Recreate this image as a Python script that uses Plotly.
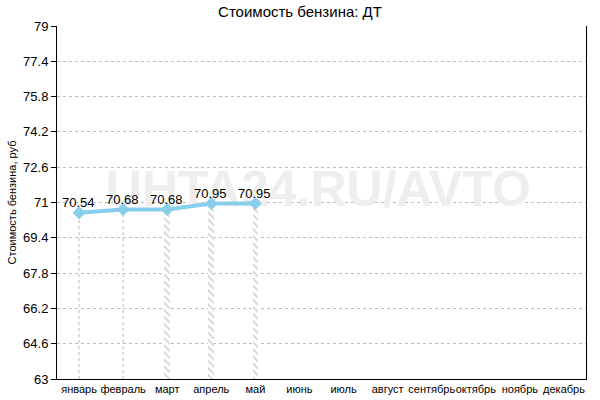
import plotly.graph_objects as go

months = ["январь", "февраль", "март", "апрель", "май", "июнь", "июль",
          "август", "сентябрь", "октябрь", "ноябрь", "декабрь"]
prices = [70.54, 70.68, 70.68, 70.95, 70.95]
line_months = months[:2]
bar_months = months[2:5]
y_ticks = [63, 64.6, 66.2, 67.8, 69.4, 71, 72.6, 74.2, 75.8, 77.4, 79]
y_min, y_max = 63, 79
watermark = "UHTA24.RU/AVTO"

FONT = "Liberation Sans, Arial, sans-serif"

fig = go.Figure()

# watermark on a hidden base subplot (drawn below the data subplot)
fig.add_trace(go.Scatter(x=[0.494], y=[0.525], mode="text", text=[watermark],
                         textfont=dict(family=FONT, size=50, color="#eeeeee", weight="bold"),
                         hoverinfo="skip", showlegend=False, xaxis="x", yaxis="y"))

# dotted drop lines (Jan, Feb)
for m, v in zip(line_months, prices[:2]):
    fig.add_trace(go.Scatter(x=[m, m], y=[y_min, v], mode="lines",
                             line=dict(color="#bbbbbb", width=1, dash="dot"),
                             hoverinfo="skip", showlegend=False, xaxis="x2", yaxis="y2"))

# hatched bars (Mar-May)
fig.add_trace(go.Bar(x=bar_months, y=[v - y_min for v in prices[2:5]], base=y_min,
                     width=0.13,
                     marker=dict(color="white", line=dict(width=0),
                                 pattern=dict(shape="\\", fgcolor="#aaaaaa",
                                              bgcolor="white", size=5, solidity=0.35)),
                     hoverinfo="skip", showlegend=False, xaxis="x2", yaxis="y2"))

fig.add_trace(go.Scatter(x=months[:5], y=prices, mode="lines+markers",
                         line=dict(color="#87CEEB", width=4),
                         marker=dict(symbol="diamond", size=10, color="#87CEEB"),
                         showlegend=False, xaxis="x2", yaxis="y2"))

for m, v in zip(months[:5], prices):
    fig.add_annotation(x=m, y=v, xref="x2", yref="y2", text=f"{v:.2f}",
                       showarrow=False, yshift=10, xshift=-1,
                       font=dict(family=FONT, size=13, color="black"))

fig.update_layout(
    width=600, height=400,
    margin=dict(l=57, r=14, t=26, b=21, autoexpand=False),
    paper_bgcolor="white", plot_bgcolor="white",
    title=dict(text="Стоимость бензина: ДТ", x=0.5, xanchor="center", y=0.985, yanchor="top",
               font=dict(family=FONT, size=15, color="black")),
    font=dict(family=FONT, color="black"),
    bargap=0,
    xaxis=dict(range=[0, 1], visible=False, showgrid=False, zeroline=False, fixedrange=True),
    yaxis=dict(range=[0, 1], visible=False, showgrid=False, zeroline=False, fixedrange=True),
    xaxis2=dict(type="category", categoryorder="array", categoryarray=months,
                range=[-0.5, 11.5], overlaying="x", anchor="y2", side="bottom",
                showline=True, linecolor="black", linewidth=1,
                showgrid=False, ticks="", tickangle=0, automargin=False,
                tickfont=dict(size=11), zeroline=False),
    yaxis2=dict(range=[y_min, y_max], tickvals=y_ticks,
                ticktext=[f"{t:g}" for t in y_ticks],
                overlaying="y", anchor="x2", side="left",
                showline=True, linecolor="black", linewidth=1, mirror=True,
                ticks="outside", ticklen=5, tickcolor="black", automargin=False,
                showgrid=True, gridcolor="#bbbbbb", griddash="dot", gridwidth=1,
                tickfont=dict(size=13), zeroline=False,
                title=dict(text="Стоимость бензина, руб", font=dict(size=11), standoff=4)),
)

fig.write_html("out.html", config={"displayModeBar": False},
               post_script="document.body.style.margin='0';document.body.style.padding='0';")
